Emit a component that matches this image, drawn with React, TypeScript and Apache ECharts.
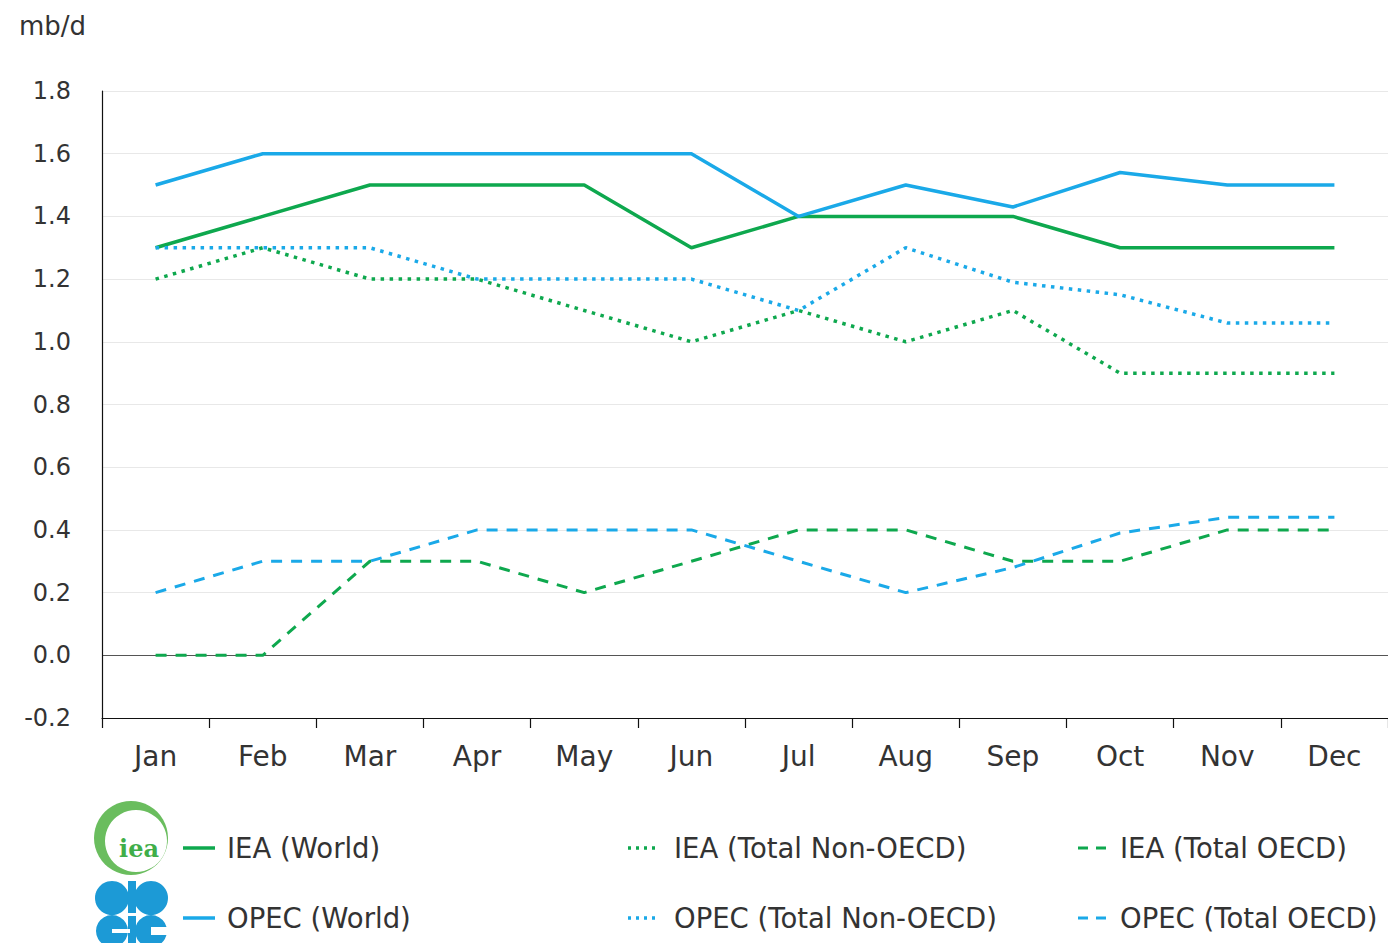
import React, { useEffect, useRef } from "react";
import * as echarts from "echarts";

const months = ["Jan", "Feb", "Mar", "Apr", "May", "Jun", "Jul", "Aug", "Sep", "Oct", "Nov", "Dec"];
const ieaWorld = [1.3, 1.4, 1.5, 1.5, 1.5, 1.3, 1.4, 1.4, 1.4, 1.3, 1.3, 1.3];
const opecWorld = [1.5, 1.6, 1.6, 1.6, 1.6, 1.6, 1.4, 1.5, 1.43, 1.54, 1.5, 1.5];
const ieaNonOecd = [1.2, 1.3, 1.2, 1.2, 1.1, 1.0, 1.1, 1.0, 1.1, 0.9, 0.9, 0.9];
const opecNonOecd = [1.3, 1.3, 1.3, 1.2, 1.2, 1.2, 1.1, 1.3, 1.19, 1.15, 1.06, 1.06];
const ieaOecd = [0.0, 0.0, 0.3, 0.3, 0.2, 0.3, 0.4, 0.4, 0.3, 0.3, 0.4, 0.4];
const opecOecd = [0.2, 0.3, 0.3, 0.4, 0.4, 0.4, 0.3, 0.2, 0.28, 0.39, 0.44, 0.44];

const GREEN = "#0ea84e";
const BLUE = "#1aa9e8";
const TEXT = "#333333";
const FONT = "'DejaVu Sans', 'Open Sans', sans-serif";

const DOT = [3.5, 5.5];
const DASH = [11, 9];

type S = { name: string; data: number[]; color: string; dash: any; width: number };
const seriesDefs: S[] = [
  { name: "IEA (World)", data: ieaWorld, color: GREEN, dash: "solid", width: 3.5 },
  { name: "OPEC (World)", data: opecWorld, color: BLUE, dash: "solid", width: 3.5 },
  { name: "IEA (Total Non-OECD)", data: ieaNonOecd, color: GREEN, dash: DOT, width: 3.5 },
  { name: "OPEC (Total Non-OECD)", data: opecNonOecd, color: BLUE, dash: DOT, width: 3.5 },
  { name: "IEA (Total OECD)", data: ieaOecd, color: GREEN, dash: DASH, width: 3 },
  { name: "OPEC (Total OECD)", data: opecOecd, color: BLUE, dash: DASH, width: 3 },
];

// legend layout: [lineStart, textStart, centerY]
const legendPos = [
  [183, 227, 848],
  [183, 227, 918],
  [628, 674, 848],
  [628, 674, 918],
  [1078, 1120, 848],
  [1078, 1120, 918],
];

export default function App() {
  const ref = useRef<HTMLDivElement>(null);
  useEffect(() => {
    document.body.style.margin = "0";
    const chart = echarts.init(ref.current!, null, { renderer: "svg" });
    const splitColors = ["#e6e6e6", "#555555", "#e8e8e8", "#e8e8e8", "#e8e8e8", "#e8e8e8", "#e8e8e8", "#e8e8e8", "#e8e8e8", "#e8e8e8", "#e8e8e8"];

    const legendGraphics: any[] = [];
    seriesDefs.forEach((s, i) => {
      const [lx, tx, cy] = legendPos[i];
      const solid = s.dash === "solid";
      legendGraphics.push({
        type: "line",
        shape: { x1: lx, y1: cy, x2: lx + 32, y2: cy },
        style: {
          stroke: s.color,
          lineWidth: s.width,
          lineDash: solid ? null : s.dash === DOT ? [3, 5] : [10, 8],
        },
      });
      legendGraphics.push({
        type: "text",
        x: tx,
        y: cy,
        style: {
          text: s.name,
          fontFamily: FONT,
          fontSize: 27.5,
          fill: TEXT,
          align: "left",
          verticalAlign: "middle",
        },
      });
    });

    chart.setOption({
      animation: false,
      backgroundColor: "#ffffff",
      title: {
        text: "mb/d",
        left: 14,
        top: 8,
        textStyle: { fontFamily: FONT, fontSize: 26, fontWeight: "normal", color: TEXT },
      },
      grid: { left: 102, top: 91, width: 1296, height: 627, containLabel: false },
      xAxis: {
        type: "category",
        data: months,
        boundaryGap: true,
        axisLine: { onZero: false, lineStyle: { color: "#111", width: 1.2 } },
        axisTick: { show: true, interval: 0, length: 10, lineStyle: { color: "#111", width: 1.2 } },
        axisLabel: { interval: 0, margin: 24, fontFamily: FONT, fontSize: 28, color: TEXT },
        splitLine: { show: false },
      },
      yAxis: {
        type: "value",
        min: -0.2,
        max: 1.8,
        interval: 0.2,
        axisLine: { show: true, lineStyle: { color: "#111", width: 1.2 } },
        axisTick: { show: false },
        axisLabel: {
          margin: 31,
          fontFamily: FONT,
          fontSize: 24,
          color: TEXT,
          formatter: (v: number) => v.toFixed(1),
        },
        splitLine: { show: true, lineStyle: { color: splitColors, width: 1 } },
      },
      graphic: [
        // IEA logo
        { type: "circle", shape: { cx: 131, cy: 838, r: 37 }, style: { fill: "#6abd5e" } },
        { type: "circle", shape: { cx: 136, cy: 841, r: 31 }, style: { fill: "#ffffff" } },
        {
          type: "text",
          x: 139,
          y: 848,
          style: {
            text: "iea",
            fontFamily: "'DejaVu Serif', 'Liberation Serif', serif",
            fontWeight: "bold",
            fontSize: 24,
            fill: "#3fae49",
            align: "center",
            verticalAlign: "middle",
          },
        },
        // OPEC logo (approximation)
        { type: "circle", shape: { cx: 112, cy: 898, r: 17 }, style: { fill: "#1c9ad6" } },
        { type: "circle", shape: { cx: 151, cy: 898, r: 17 }, style: { fill: "#1c9ad6" } },
        { type: "rect", shape: { x: 128, y: 881, width: 8, height: 62 }, style: { fill: "#1c9ad6" } },
        { type: "circle", shape: { cx: 112, cy: 931, r: 16 }, style: { fill: "#1c9ad6" } },
        { type: "circle", shape: { cx: 151, cy: 931, r: 16 }, style: { fill: "#1c9ad6" } },
        { type: "rect", shape: { x: 112, y: 929, width: 18, height: 4 }, style: { fill: "#ffffff" } },
        { type: "rect", shape: { x: 151, y: 927, width: 18, height: 8 }, style: { fill: "#ffffff" } },
        { type: "rect", shape: { x: 126, y: 913, width: 12, height: 3 }, style: { fill: "#ffffff" } },
        ...legendGraphics,
      ],
      series: seriesDefs.map((s) => ({
        name: s.name,
        type: "line",
        data: s.data,
        symbol: "none",
        showSymbol: false,
        lineStyle: { color: s.color, width: s.width, type: s.dash },
        itemStyle: { color: s.color },
        emphasis: { disabled: true },
      })),
    });
    return () => chart.dispose();
  }, []);
  return <div ref={ref} style={{ width: 1388, height: 943 }} />;
}
